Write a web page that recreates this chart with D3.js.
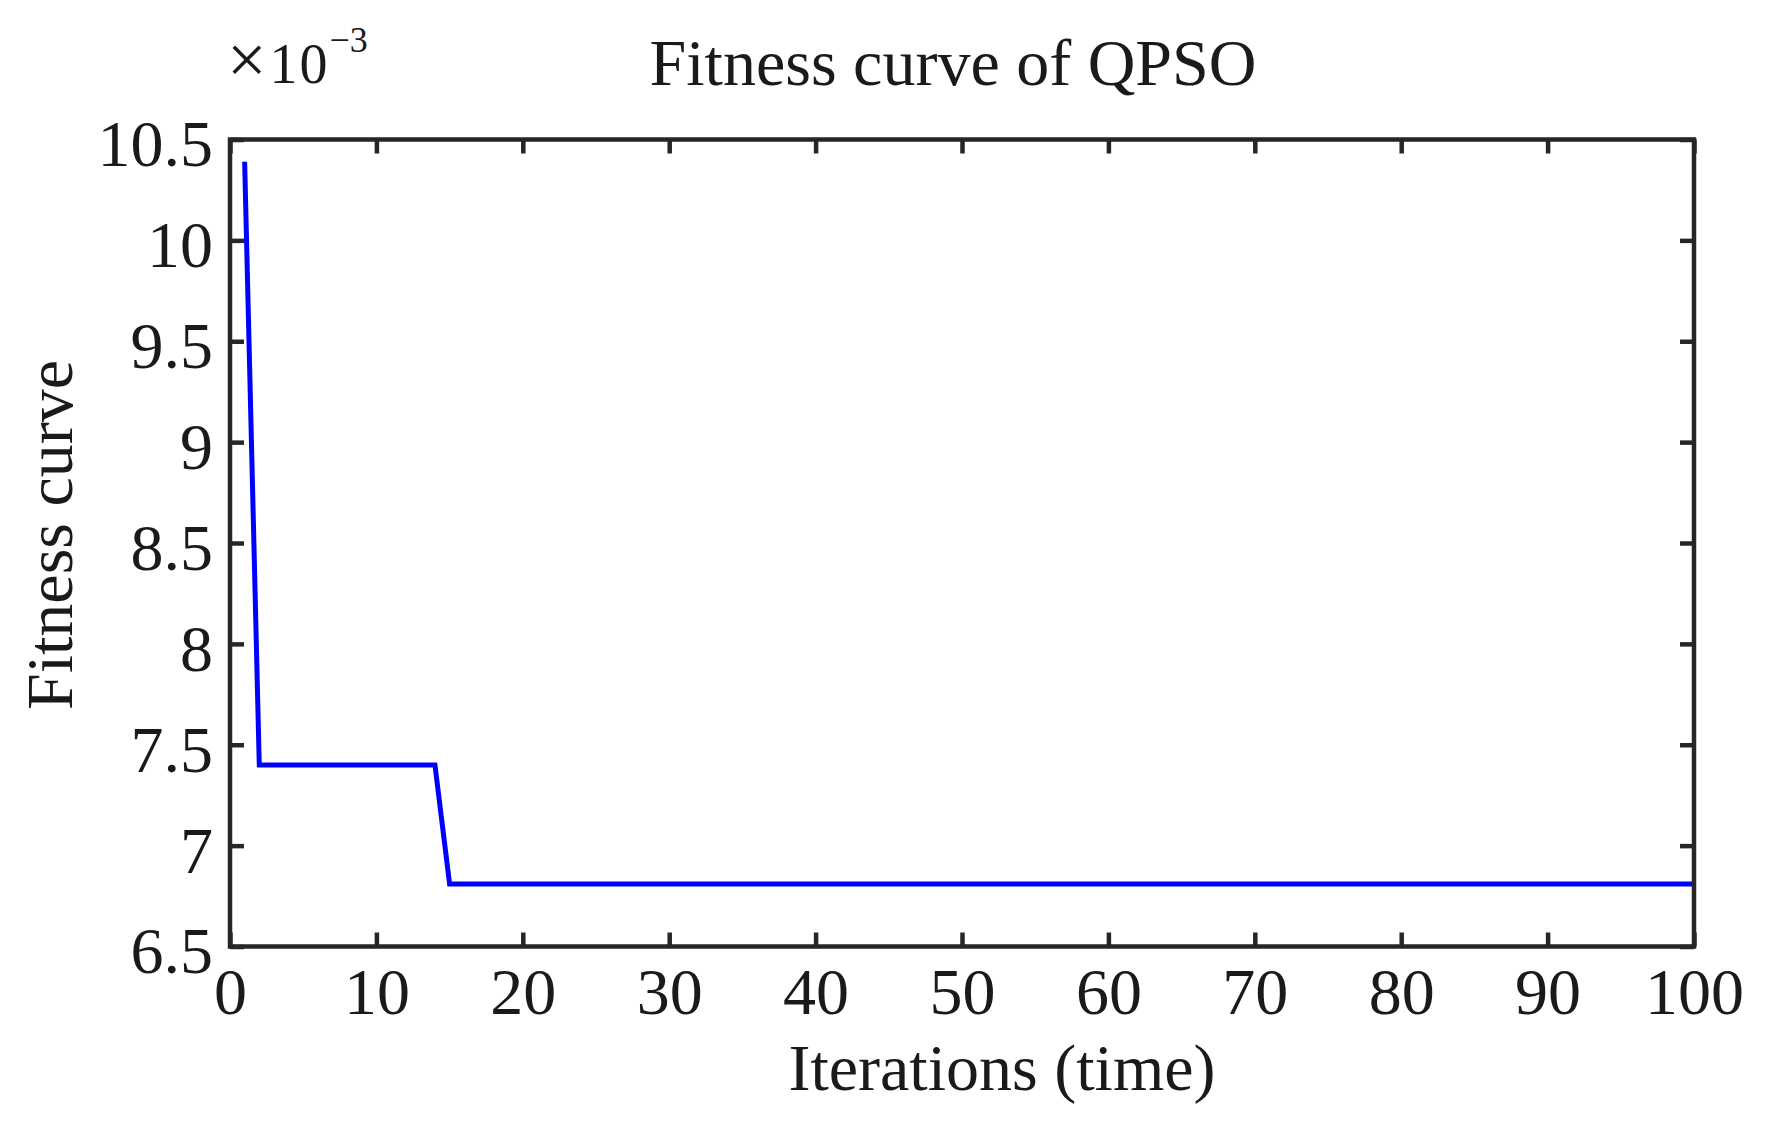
<!DOCTYPE html>
<html>
<head>
<meta charset="utf-8">
<script src="https://cdn.jsdelivr.net/npm/d3@7"></script>
<style>
  body { margin: 0; background: #fff; }
  svg text { font-family: "Liberation Serif", "Times New Roman", serif; fill: #1a1a1a; }
</style>
</head>
<body>
<div id="chart"></div>
<script>
// vertices of the fitness curve (values are x10^-3)
const iterations = [1, 2, 14, 15, 100];
const fitness = [10.39, 7.40, 7.40, 6.81, 6.81];

const xTicks = [0, 10, 20, 30, 40, 50, 60, 70, 80, 90, 100];
const yTicks = [6.5, 7, 7.5, 8, 8.5, 9, 9.5, 10, 10.5];
const yTickLabels = ['6.5', '7', '7.5', '8', '8.5', '9', '9.5', '10', '10.5'];

const titleText = 'Fitness curve of QPSO';
const xLabelText = 'Iterations (time)';
const yLabelText = 'Fitness curve';

const W = 1771, H = 1124;
const margin = { top: 139.5, left: 230, right: 77, bottom: 177.5 };
const width = W - margin.left - margin.right,
  height = H - margin.top - margin.bottom;
const tick = 14, fs = 66, axisColor = '#262626';

const svg = d3.select('#chart').append('svg')
  .attr('width', W).attr('height', H);
const g = svg.append('g')
  .attr('transform', `translate(${margin.left},${margin.top})`);

const x = d3.scaleLinear().domain([0, 100]).range([0, width]);
const y = d3.scaleLinear().domain([6.5, 10.5]).range([height, 0]);

// the curve first, so the frame sits on top of it
const line = d3.line().x(d => x(d[0])).y(d => y(d[1]));
g.append('path')
  .datum(d3.zip(iterations, fitness))
  .attr('d', line)
  .attr('fill', 'none')
  .attr('stroke', '#0000ff')
  .attr('stroke-width', 5)
  .attr('stroke-linejoin', 'miter');

// axes, ticks pointing inwards on all four sides
const axBottom = g.append('g').attr('transform', `translate(0,${height})`)
  .call(d3.axisBottom(x).tickValues(xTicks).tickSizeInner(-tick).tickSizeOuter(0).tickPadding(21));
const axLeft = g.append('g')
  .call(d3.axisLeft(y).tickValues(yTicks).tickSizeInner(-tick).tickSizeOuter(0).tickPadding(17)
    .tickFormat((d, i) => yTickLabels[i]));
const axTop = g.append('g')
  .call(d3.axisTop(x).tickValues(xTicks).tickSizeInner(-tick).tickSizeOuter(0).tickFormat(''));
const axRight = g.append('g').attr('transform', `translate(${width},0)`)
  .call(d3.axisRight(y).tickValues(yTicks).tickSizeInner(-tick).tickSizeOuter(0).tickFormat(''));

[axBottom, axLeft, axTop, axRight].forEach(a => {
  a.select('.domain').remove();
  a.selectAll('line').attr('stroke', axisColor).attr('stroke-width', 4.5);
  a.selectAll('text')
    .style('font-family', '"Liberation Serif", "Times New Roman", serif')
    .attr('font-size', fs).attr('fill', '#1a1a1a');
});
axLeft.selectAll('text').attr('dy', '0.4em');

g.append('rect')
  .attr('width', width).attr('height', height)
  .attr('fill', 'none').attr('stroke', axisColor).attr('stroke-width', 4.5);

// titles
svg.append('text')
  .attr('x', 953).attr('y', 85)
  .attr('text-anchor', 'middle').attr('font-size', fs)
  .text(titleText);

svg.append('text')
  .attr('x', 1002).attr('y', 1090)
  .attr('text-anchor', 'middle').attr('font-size', fs)
  .text(xLabelText);

svg.append('text')
  .attr('transform', 'translate(72,535) rotate(-90)')
  .attr('text-anchor', 'middle').attr('font-size', fs)
  .text(yLabelText);

// exponent note
const ex = svg.append('text').attr('x', 227).attr('y', 83).attr('font-size', 56);
ex.append('tspan').attr('font-size', 70).text('\u00d7');
ex.append('tspan').attr('dx', 3).attr('letter-spacing', 2).text('10');
ex.append('tspan').attr('font-size', 36).attr('dy', -31).text('\u22123');
</script>
</body>
</html>
